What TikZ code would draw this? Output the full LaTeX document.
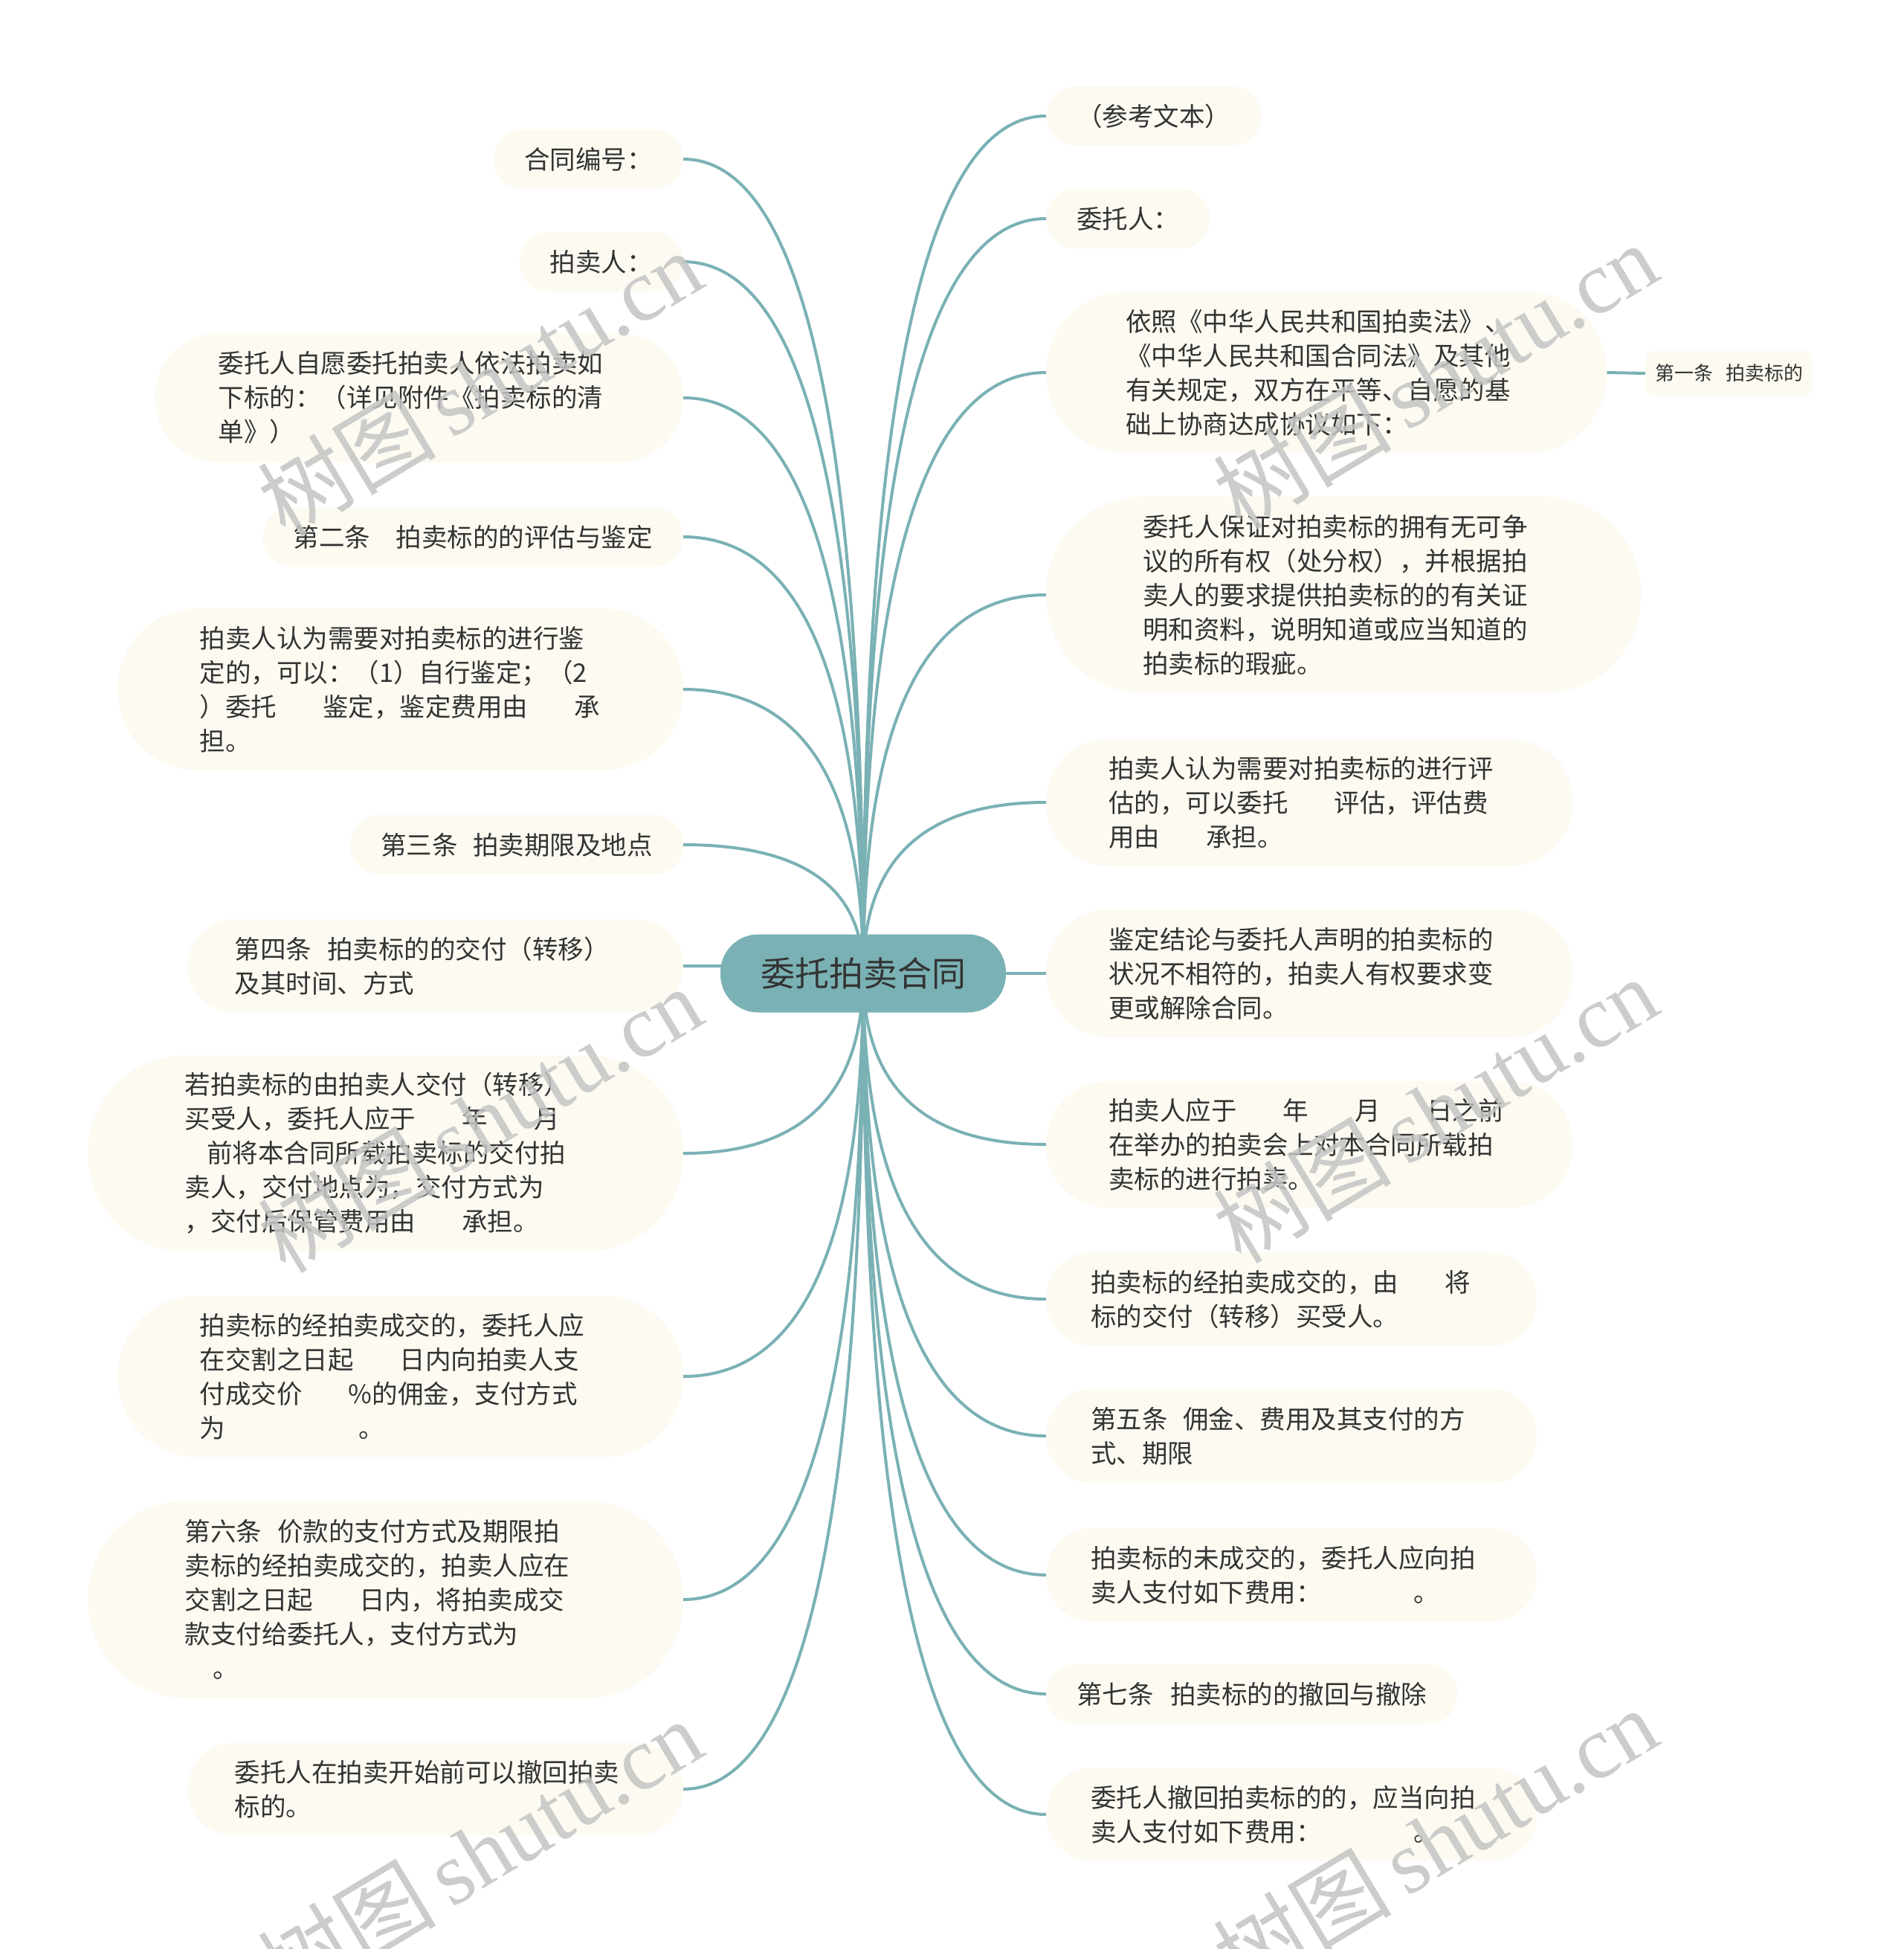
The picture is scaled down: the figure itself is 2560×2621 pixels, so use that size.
\documentclass[tikz,border=0pt]{standalone}
\usepackage{fontspec}
\setmainfont{Noto Sans CJK SC}
\newfontfamily\wmserif{Liberation Serif}
\usetikzlibrary{calc,backgrounds}
\definecolor{leaffill}{HTML}{FCFAF1}
\definecolor{teal1}{HTML}{7AB1B4}
\definecolor{txt}{HTML}{333333}
\definecolor{wmgray}{HTML}{C4C4C4}
\newcommand{\gp}[1]{\leavevmode\hbox to #1em{}}
\newcommand{\conn}[2]{\draw[edge] (#1.#2) .. controls ($(#1.#2)!0.6667!(c.center |- #1.#2)$) and ($(c.center)!0.6667!(c.center |- #1.#2)$) .. (c.center);}
\tikzset{
  leaf/.style={fill=leaffill, text=txt, inner ysep=0pt, font=\fontsize{34.5}{46}\selectfont},
  one/.style={leaf, minimum height=80pt, inner xsep=41pt, rounded corners=39pt},
  multi/.style 2 args={leaf, align=left, text width=540pt, inner xsep=#1pt, minimum height=#2pt, rounded corners=0.49*#2},
  edge/.style={draw=teal1, line width=4pt},
  wm/.style={text=wmgray, opacity=0.85, rotate=31, font=\fontsize{120}{120}\selectfont, inner sep=0pt},
}
\begin{document}
\begin{tikzpicture}[x=1pt,y=-1pt]
\path[use as bounding box] (0,0) rectangle (2560,2621);
% central topic
\node[fill=teal1, text=txt, minimum width=384pt, minimum height=105pt, rounded corners=51pt, inner sep=0pt, font=\fontsize{46}{46}\selectfont] (c) at (1161,1309) {委托拍卖合同};
% left branches
\node[one, anchor=east] (L1) at (919,214) {合同编号：};
\node[one, anchor=east] (L2) at (919,352) {拍卖人：};
\node[multi={85}{174}, anchor=east] (L3) at (919,535) {委托人自愿委托拍卖人依法拍卖如\\下标的：（详见附件《拍卖标的清\\单》）};
\node[one, anchor=east] (L4) at (919,722) {第二条\gp{1}拍卖标的的评估与鉴定};
\node[multi={110}{217}, anchor=east] (L5) at (919,927) {拍卖人认为需要对拍卖标的进行鉴\\定的，可以：（1）自行鉴定；（2\\）委托\gp{1.8}鉴定，鉴定费用由\gp{1.8}承\\担。};
\node[one, anchor=east] (L6) at (919,1136) {第三条\gp{0.6}拍卖期限及地点};
\node[multi={63}{125}, anchor=east] (L7) at (919,1299) {第四条\gp{0.6}拍卖标的的交付（转移）\\及其时间、方式};
\node[multi={130}{263}, anchor=east] (L8) at (919,1551) {若拍卖标的由拍卖人交付（转移）\\买受人，委托人应于\gp{1.8}年\gp{1.8}月\\\gp{0.85}前将本合同所载拍卖标的交付拍\\卖人，交付地点为，交付方式为\\，交付后保管费用由\gp{1.8}承担。};
\node[multi={110}{217}, anchor=east] (L9) at (919,1851) {拍卖标的经拍卖成交的，委托人应\\在交割之日起\gp{1.8}日内向拍卖人支\\付成交价\gp{1.8}\%的佣金，支付方式\\为\gp{5.2}。};
\node[multi={130}{265}, anchor=east] (L10) at (919,2151) {第六条\gp{0.6}价款的支付方式及期限拍\\卖标的经拍卖成交的，拍卖人应在\\交割之日起\gp{1.8}日内，将拍卖成交\\款支付给委托人，支付方式为\\\gp{1.1}。};
\node[multi={63}{124}, anchor=east] (L11) at (919,2406) {委托人在拍卖开始前可以撤回拍卖\\标的。};
% right branches
\node[one, anchor=west] (R1) at (1407,156) {（参考文本）};
\node[one, anchor=west] (R2) at (1407,294) {委托人：};
\node[multi={107}{217}, anchor=west] (R3) at (1407,501) {依照《中华人民共和国拍卖法》、\\《中华人民共和国合同法》及其他\\有关规定，双方在平等、自愿的基\\础上协商达成协议如下：};
\node[leaf, font=\fontsize{26}{30}\selectfont, inner xsep=13pt, minimum height=61pt, rounded corners=12pt, anchor=west] (R3c) at (2213,502) {第一条\gp{0.65}拍卖标的};
\node[multi={130}{264}, anchor=west] (R4) at (1407,800) {委托人保证对拍卖标的拥有无可争\\议的所有权（处分权），并根据拍\\卖人的要求提供拍卖标的的有关证\\明和资料，说明知道或应当知道的\\拍卖标的瑕疵。};
\node[multi={84}{171}, anchor=west] (R5) at (1407,1079) {拍卖人认为需要对拍卖标的进行评\\估的，可以委托\gp{1.8}评估，评估费\\用由\gp{1.8}承担。};
\node[multi={84}{172}, anchor=west] (R6) at (1407,1309) {鉴定结论与委托人声明的拍卖标的\\状况不相符的，拍卖人有权要求变\\更或解除合同。};
\node[multi={84}{170}, anchor=west] (R7) at (1407,1539) {拍卖人应于\gp{1.8}年\gp{1.8}月\gp{1.8}日之前\\在举办的拍卖会上对本合同所载拍\\卖标的进行拍卖。};
\node[multi={60}{126}, anchor=west] (R8) at (1407,1747) {拍卖标的经拍卖成交的，由\gp{1.8}将\\标的交付（转移）买受人。};
\node[multi={60}{126}, anchor=west] (R9) at (1407,1931) {第五条\gp{0.6}佣金、费用及其支付的方\\式、期限};
\node[multi={60}{126}, anchor=west] (R10) at (1407,2118) {拍卖标的未成交的，委托人应向拍\\卖人支付如下费用：\gp{3.6}。};
\node[one, anchor=west] (R11) at (1407,2278) {第七条\gp{0.65}拍卖标的的撤回与撤除};
\node[multi={60}{125}, anchor=west] (R12) at (1407,2440) {委托人撤回拍卖标的的，应当向拍\\卖人支付如下费用：\gp{3.6}。};
% connectors
\begin{scope}[on background layer]
\fill[white] (0,0) rectangle (2560,2621);
\foreach \n in {L1,L2,L3,L4,L5,L6,L7,L8,L9,L10,L11} {\conn{\n}{east}}
\foreach \n in {R1,R2,R3,R4,R5,R6,R7,R8,R9,R10,R11,R12} {\conn{\n}{west}}
\draw[edge] (R3.east) -- (R3c.west);
\end{scope}
% watermarks
\node[wm] (w1) at (645,515) {树图\,{\wmserif shutu.cn}};
\node[wm] (w2) at (645,1505) {树图\,{\wmserif shutu.cn}};
\node[wm] (w3) at (645,2490) {树图\,{\wmserif shutu.cn}};
\node[wm] (w4) at (1930,505) {树图\,{\wmserif shutu.cn}};
\node[wm] (w5) at (1930,1492) {树图\,{\wmserif shutu.cn}};
\node[wm] (w6) at (1930,2475) {树图\,{\wmserif shutu.cn}};
\end{tikzpicture}
\end{document}
